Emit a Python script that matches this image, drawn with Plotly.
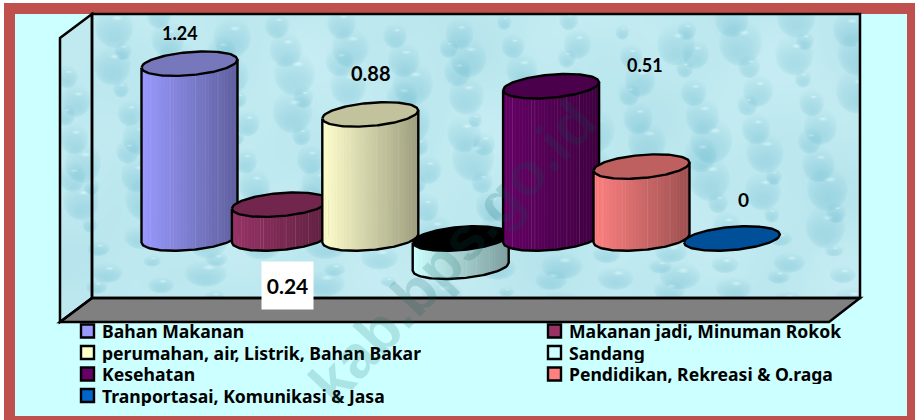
import base64, struct, zlib
import numpy as np
import plotly.graph_objects as go

categories = ["Bahan Makanan", "Makanan jadi, Minuman Rokok",
              "perumahan, air, Listrik, Bahan Bakar", "Sandang",
              "Kesehatan", "Pendidikan, Rekreasi & O.raga",
              "Tranportasai, Komunikasi & Jasa"]
values = [1.24, 0.24, 0.88, -0.20, 1.08, 0.51, 0.0]
shown_labels = ["1.24", "0.24", "0.88", None, None, "0.51", "0"]
colors = ["#9999FF", "#993366", "#FFFFCC", "#CCFFFF", "#660066", "#FF8080", "#0066CC"]
top_colors = ["#7777BB", "#73264D", "#C2C29C", "#000000", "#4A004A", "#BF6060", "#004F99"]

W, H = 915, 420
PX_X, PX_Y = 90.4, 141.0      # pixels per category step / per value unit
X0, Y0 = 189.5, 238.5         # pixel position of category 0 and of value 0
HALF = 48 / PX_X
B = 11.6 / PX_Y
TILT = 4.0 / PX_Y
FONT = "Lato"
LEGEND_FONT = "Noto Sans"


def px(x):
    return x / W


def py(y):
    return 1 - y / H


def texture(w, h):
    yy, xx = np.mgrid[0:h, 0:w].astype(float)
    v = (np.sin(xx / 37 + yy / 59) + np.sin(xx / 71 - yy / 29) + np.sin(xx / 19 + 1.3) * np.sin(yy / 23)) / 3
    shade = 0.035 * v
    phi1, phi2 = 0.7548776662, 0.5698402910
    for i in range(1, 210):
        cx, cy = (i * phi1 % 1) * w, (i * phi2 % 1) * h
        rad = 7 + 15 * (i * 0.381966 % 1)
        sy = 0.65 if cy > h * 0.72 else 1.1
        dy = (yy - cy) / (rad * sy)
        d = np.sqrt(((xx - cx) / rad) ** 2 + dy ** 2)
        mask = d < 1
        shade[mask] -= 0.16 * np.sqrt(1 - d[mask] ** 2) * np.clip(0.6 + 0.5 * dy[mask], 0.1, 1)
        hd = np.sqrt(((xx - cx - rad * 0.15) / (rad * 0.32)) ** 2 + ((yy - cy + rad * 0.4 * sy) / (rad * 0.14)) ** 2)
        shade[hd < 1] += 0.13 * (1 - hd[hd < 1])
    base = np.array([191, 233, 240], float)
    img = base[None, None, :] * (1 + shade[..., None] * np.array([1.2, 0.55, 0.38]))
    img = np.clip(img, 0, 255).astype(np.uint8)
    raw = b"".join(b"\x00" + img[r].tobytes() for r in range(h))

    def chunk(t, d):
        return struct.pack(">I", len(d)) + t + d + struct.pack(">I", zlib.crc32(t + d) & 0xffffffff)

    png = b"\x89PNG\r\n\x1a\n" + chunk(b"IHDR", struct.pack(">IIBBBBB", w, h, 8, 2, 0, 0, 0)) \
        + chunk(b"IDAT", zlib.compress(raw, 9)) + chunk(b"IEND", b"")
    return "data:image/png;base64," + base64.b64encode(png).decode()


def poly(points, **kw):
    path = "M" + " L".join(f"{px(a):.5f},{py(b):.5f}" for a, b in points) + " Z"
    return dict(type="path", path=path, xref="paper", yref="paper", layer="below", **kw)


def rect(x0, y0, x1, y1, color, **kw):
    return dict(type="rect", xref="paper", yref="paper", x0=px(x0), x1=px(x1), y0=py(y0), y1=py(y1),
                layer=kw.pop("layer", "below"), fillcolor=color, **(kw or dict(line_width=0)))


def blend(hex_color, factor):
    c = [int(hex_color[i:i + 2], 16) for i in (1, 3, 5)]
    return "rgb(%d,%d,%d)" % tuple(round(v * factor) for v in c)


fig = go.Figure()
u = np.linspace(-1, 1, 61)
STRIPS = 30
for i, (name, val, col, topc) in enumerate(zip(categories, values, colors, top_colors)):
    hi, lo = max(val, 0.0), min(val, 0.0)
    height = hi - lo
    if height > 0:
        edges = np.linspace(-1, 1, STRIPS + 1)
        for s in range(STRIPS):
            us = np.linspace(edges[s], edges[s + 1], 4)
            upper = hi + TILT * us
            lower = lo + TILT * us - B * np.sqrt(1 - us ** 2)
            xs = i + HALF * us
            t = (s + 0.5) / STRIPS
            fac = 1 - 0.38 * t
            light = s % 7 == 2 or s % 11 == 8
            c = blend(col, fac)
            fig.add_trace(go.Scatter(
                x=np.r_[xs, xs[::-1], xs[0]], y=np.r_[upper, lower[::-1], upper[0]],
                mode="lines", fill="toself", fillcolor=c,
                line=dict(color=c, width=0.6), showlegend=False, hoverinfo="skip"))
            if light:
                fig.add_trace(go.Scatter(
                    x=[xs[-1], xs[-1]], y=[upper[-1], lower[-1]], mode="lines",
                    line=dict(color="rgba(255,255,255,0.28)", width=1),
                    showlegend=False, hoverinfo="skip"))
        # silhouette outline
        ox = np.r_[i - HALF, i + HALF * u, i + HALF]
        oy = np.r_[hi - TILT, lo + TILT * u - B * np.sqrt(1 - u ** 2), hi + TILT]
        fig.add_trace(go.Scatter(x=ox, y=oy, mode="lines", line=dict(color="black", width=2.4),
                                 showlegend=False, hoverinfo="skip"))
    # top ellipse
    tx = np.r_[i + HALF * u, i + HALF * u[::-1]]
    ty = np.r_[hi + TILT * u + B * np.sqrt(1 - u ** 2), hi + TILT * u[::-1] - B * np.sqrt(1 - u[::-1] ** 2)]
    fig.add_trace(go.Scatter(x=tx, y=ty, mode="lines", fill="toself", fillcolor=topc,
                             line=dict(color="black", width=2.4), showlegend=False, hoverinfo="skip"))

# page frame (inner area is the paper colour, so the wall picture sits above it)
shapes = [
    rect(0, 3, 15, 420, "#C0504D"),
    rect(907, 3, 915, 420, "#C0504D"),
    rect(0, 3, 915, 14, "#C0504D"),
    rect(0, 416, 915, 420, "#C0504D"),
    rect(0, 0, 4, 420, "white"),
    rect(0, 0, 915, 3, "white"),
]
images = [dict(source=texture(800, 308), xref="paper", yref="paper", x=px(60), y=py(14),
               sizex=800 / W, sizey=308 / H, xanchor="left", yanchor="top", sizing="stretch", layer="below")]
trim = [
    poly([(60, 14), (92, 14), (60, 38)], fillcolor="#CCFFFF", line_width=0),
    poly([(829, 322), (861, 298), (861, 323), (829, 323)], fillcolor="#CCFFFF", line_width=0),
    poly([(92, 298), (860, 298), (829, 322), (60, 322)], fillcolor="#808080",
         line=dict(color="black", width=2.5)),
    poly([(60, 38), (92, 14), (92, 298), (60, 322)], line=dict(color="black", width=2.5), fillcolor="rgba(0,0,0,0)"),
    poly([(92, 14), (860, 14), (860, 298), (92, 298)], line=dict(color="black", width=2.5), fillcolor="rgba(0,0,0,0)"),
]

label_pos = {0: (180, 33, 18), 1: (287, 285, 21), 2: (371, 73, 20), 5: (645, 65, 18), 6: (743, 199, 19)}
ann = []
for i, txt in enumerate(shown_labels):
    if txt is None:
        continue
    a, b, fs = label_pos[i]
    item = dict(x=px(a), y=py(b), xref="paper", yref="paper", text=f"<b>{txt}</b>", showarrow=False,
                font=dict(family=FONT, size=fs, color="black"), xanchor="center", yanchor="middle")
    if i == 1:
        item.update(bgcolor="white", width=49, height=45)
    ann.append(item)

# legend: two columns, filled row by row
legend_shapes = []
for i, (name, col) in enumerate(zip(categories, colors)):
    column, row = i % 2, i // 2
    sx = 81 if column == 0 else 548
    sy = 331 + row * 21.5
    legend_shapes.append(rect(sx, sy - 6.5, sx + 13, sy + 6.5, col, layer="above",
                              line=dict(color="black", width=2.4)))
    ann.append(dict(x=px(sx + 19), y=py(sy), xref="paper", yref="paper", text=f"<b>{name}</b>",
                    showarrow=False, xanchor="left", yanchor="middle", height=20, valign="middle",
                    font=dict(family=LEGEND_FONT, size=17.6, color="black")))

ann.append(dict(x=px(452), y=py(252), xref="paper", yref="paper", text="<b>kab.bps.go.id</b>", showarrow=False,
                textangle=-47, font=dict(family="Liberation Sans", size=60, color="rgba(0,90,90,0.16)"),
                xanchor="center", yanchor="middle"))

x_left = -X0 / PX_X
x_right = (W - X0) / PX_X
y_top = Y0 / PX_Y
y_bot = -(H - Y0) / PX_Y
fig.update_layout(
    width=W, height=H, autosize=False, margin=dict(l=0, r=0, t=0, b=0),
    paper_bgcolor="#CCFFFF", plot_bgcolor="rgba(0,0,0,0)",
    xaxis=dict(visible=False, range=[x_left, x_right], fixedrange=True),
    yaxis=dict(visible=False, range=[y_bot, y_top], fixedrange=True),
    shapes=shapes + trim + legend_shapes, images=images, annotations=ann,
    showlegend=False,
)
fig.write_html("out.html", config={"displayModeBar": False},
               post_script="document.body.style.margin='0';document.body.style.overflow='hidden';")
